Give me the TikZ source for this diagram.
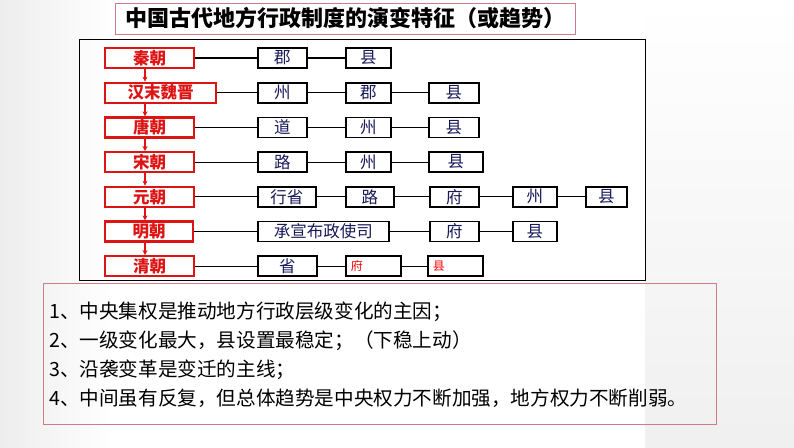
\documentclass[tikz,border=0pt]{standalone}
\usepackage{fontspec}
\setmainfont{Noto Sans CJK SC}
\usetikzlibrary{arrows.meta}

\definecolor{dynred}{RGB}{222,20,20}
\definecolor{navy}{RGB}{25,25,90}
\definecolor{pinkline}{RGB}{205,125,135}

\begin{document}
\begin{tikzpicture}[x=1pt,y=-1pt,
  dynasty/.style={draw=dynred,line width=2.2pt,text=dynred,font=\bfseries\fontsize{16.5}{16.5}\selectfont,
    minimum height=20pt,inner sep=0pt,anchor=west},
  level/.style={draw=black,line width=1.7pt,text=navy,font=\fontsize{16.5}{16.5}\selectfont,
    minimum height=20pt,inner sep=0pt,anchor=west},
  lvlred/.style={draw=black,line width=1.7pt,text=red,font=\fontsize{12}{12}\selectfont,
    minimum height=20pt,inner xsep=5pt,inner ysep=0pt,align=left,anchor=west},
  point/.style={font=\fontsize{19.6}{19.6}\selectfont,inner sep=0pt,anchor=west}]

% Background
\useasboundingbox (0,0) rectangle (794,447);
\fill[white] (0,0) rectangle (794,447);
\shade[left color=gray!14,right color=white] (0,0) rectangle (115,447);
\shade[top color=white,bottom color=gray!12] (645,0) rectangle (794,447);

% Title
\node[draw=pinkline,line width=1pt,minimum width=460pt,minimum height=31pt,inner sep=0pt,
  font=\bfseries\fontsize{22}{22}\selectfont] (title) at (345,18.5) {中国古代地方行政制度的演变特征（或趋势）};

% Frame of the chart
\draw[line width=1pt] (79,39) rectangle (645,280);

% Row spacing
\def\rowgap{34.7}
\coordinate (axis) at (145,0);

% Dynasty boxes
\foreach \r/\w/\name in {1/89/秦朝,2/111/汉末魏晋,3/89/唐朝,4/89/宋朝,5/89/元朝,6/88/明朝,7/89/清朝} {
  \node[dynasty,minimum width=\w pt] (d\r) at (104,{58+\rowgap*(\r-1)}) {\name};
}

% Arrows between dynasties
\foreach \r in {1,...,6} {
  \pgfmathtruncatemacro\s{\r+1}
  \draw[-{Stealth[length=5pt,width=5pt]},dynred,line width=1.5pt] (d\r.south -| axis) -- (d\s.north -| axis);
}

% Level boxes
\foreach \r/\c/\x/\w/\name in {1/1/257/49/郡,1/2/345/45/县,
  2/1/257/49/州,2/2/345/45/郡,2/3/428/50/县,
  3/1/257/49/道,3/2/345/45/州,3/3/428/50/县,
  4/1/257/49/路,4/2/345/45/州,4/3/428/54/县,
  5/1/257/58/行省,5/2/345/48/路,5/3/429/49/府,5/4/512/44/州,5/5/585/41/县,
  6/1/257/131/承宣布政使司,6/2/429/49/府,6/3/512/44/县,
  7/1/257/59/省} {
  \node[level,minimum width=\w pt] (b\r-\c) at (\x,{58+\rowgap*(\r-1)}) {\name};
}
\node[lvlred,text width=45pt] (b7-2) at (345,{58+\rowgap*6}) {府};
\node[lvlred,text width=45pt] (b7-3) at (427,{58+\rowgap*6}) {县};

% Connectors
\foreach \r/\n in {1/2,2/3,3/3,4/3,5/5,6/3,7/3} {
  \draw[line width=1.1pt] (d\r.east) -- (b\r-1.west);
  \foreach \c in {2,...,\n} {
    \pgfmathtruncatemacro\p{\c-1}
    \draw[line width=1.1pt] (b\r-\p.east) -- (b\r-\c.west);
  }
}

% Summary box
\node[draw=pinkline,line width=1pt,minimum width=673pt,minimum height=141pt,inner sep=0pt] (summary) at (379.5,353.5) {};
\node[point] (p1) at (49,312) {1、中央集权是推动地方行政层级变化的主因；};
\node[point] (p2) at (49,341) {2、一级变化最大，县设置最稳定；（下稳上动）};
\node[point] (p3) at (49,370) {3、沿袭变革是变迁的主线；};
\node[point] (p4) at (49,398) {4、中间虽有反复，但总体趋势是中央权力不断加强，地方权力不断削弱。};

\end{tikzpicture}
\end{document}
